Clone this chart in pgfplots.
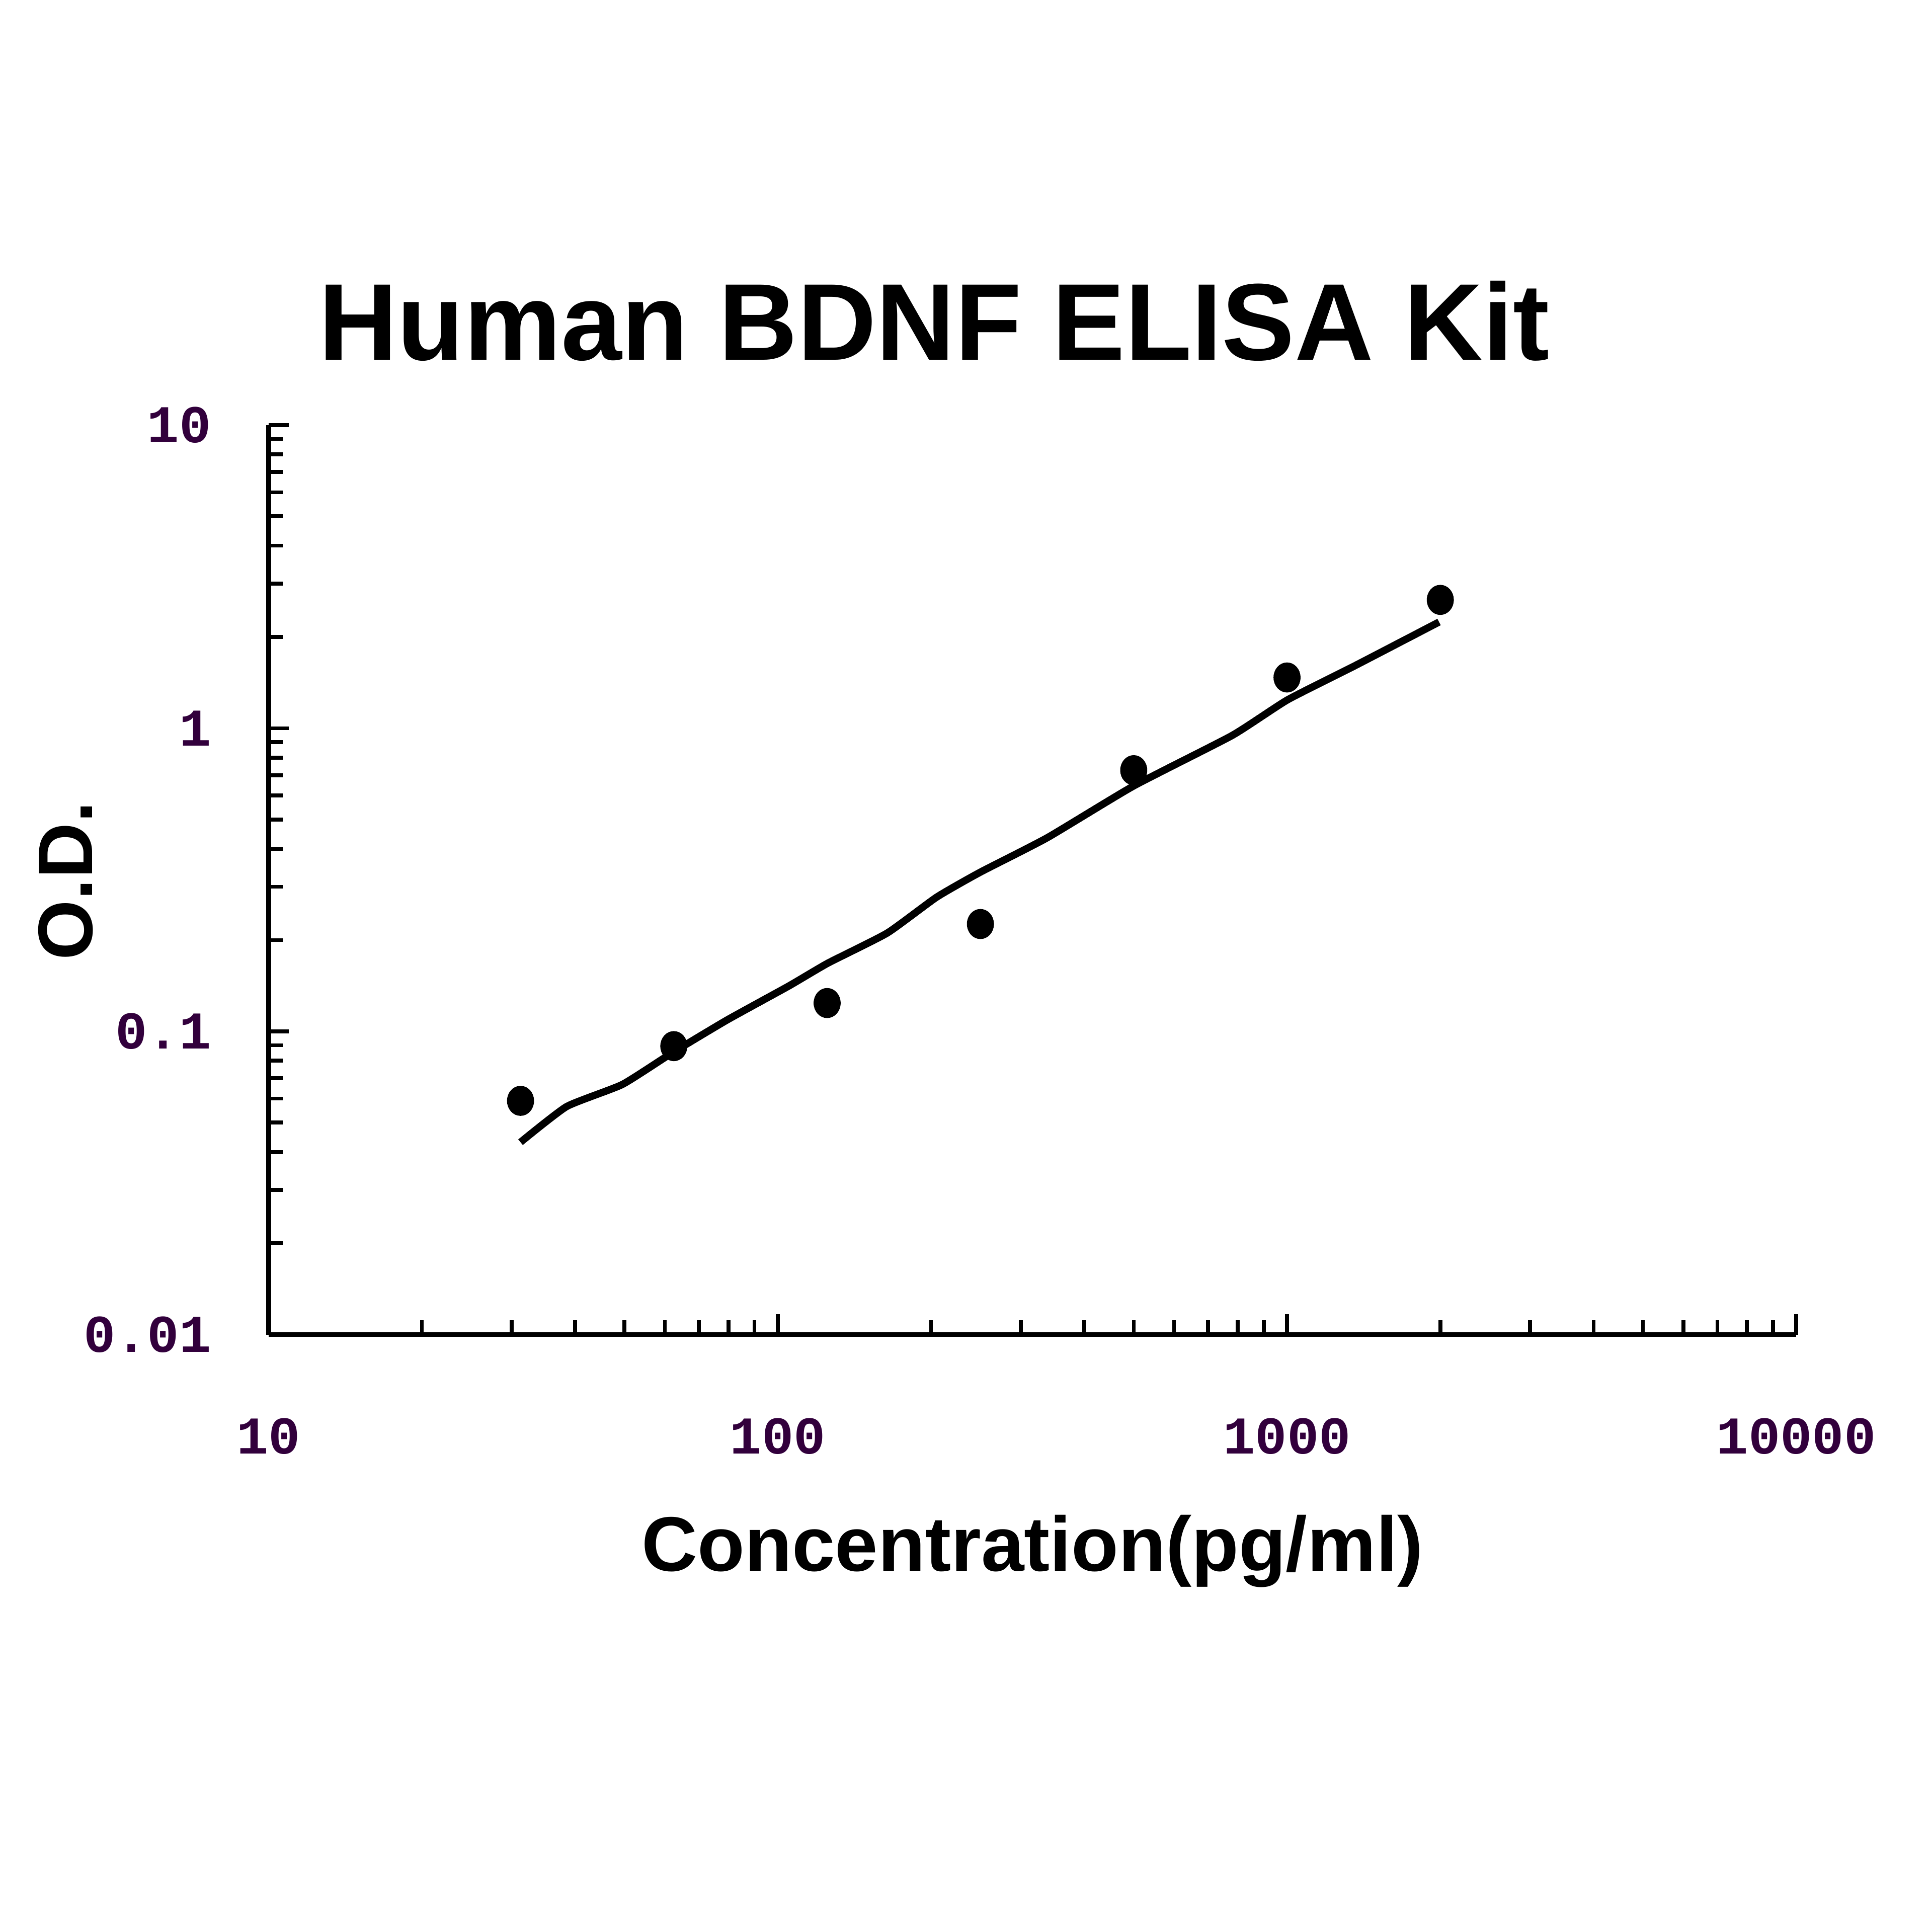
\documentclass[border=0pt]{standalone}
\usepackage{pgfplots}
\pgfplotsset{compat=1.18}
\usepackage{fontspec}
\setmainfont{Liberation Sans}
\newfontfamily\tickfont{Liberation Mono}
\definecolor{ticktext}{RGB}{50,0,60}
\begin{document}
\begin{tikzpicture}
\path (-55.6pt,-123.7pt) rectangle (344.4pt,276.3pt);
\begin{axis}[
  at={(0pt,0pt)}, anchor=south west,
  scale only axis, width=316.3pt, height=188.3pt,
  xmode=log, ymode=log,
  xmin=10, xmax=10000, ymin=0.01, ymax=10,
  axis lines*=left,
  axis line style={line width=1pt, black},
  tick align=inside,
  major tick length=4.2pt, minor tick length=3pt,
  every tick/.style={black, line width=0.8pt},
  xtick={10,100,1000,10000},
  xticklabels={10,100,1000,10000},
  ytick={0.01,0.1,1,10},
  yticklabels={0.01,0.1,1,10},
  xticklabel style={font=\tickfont\bfseries\fontsize{11}{11}\selectfont, text=ticktext, anchor=base, inner sep=0pt, yshift=-24.7pt},
  yticklabel style={font=\tickfont\bfseries\fontsize{11}{11}\selectfont, text=ticktext, anchor=east, inner sep=0pt, xshift=-11.7pt},
  clip=false,
]
\addplot[black, line width=1.5pt, no marks, smooth, tension=0.3] coordinates {
  (31.25,0.0431) (38.5,0.0565) (49.5,0.0668) (61.8,0.0846) (79.5,0.109)
  (105,0.141) (125.5,0.168) (164,0.211) (205,0.277) (249,0.334)
  (338,0.435) (499,0.644) (780,0.946) (1002,1.24) (1362,1.61) (1989,2.24)
};
\addplot[only marks, mark=*, mark size=2.6pt, mark options={fill=black, draw=black, yscale=1.12}] coordinates {
  (31.25,0.059) (62.5,0.0894) (125,0.124) (250,0.226) (500,0.727) (1000,1.47) (2000,2.65)
};
\end{axis}
\node[anchor=base, font=\bfseries\fontsize{22.6}{24}\selectfont] at (137.8pt,201.8pt) {Human BDNF ELISA Kit};
\node[anchor=base, font=\bfseries\fontsize{16}{18}\selectfont] at (158.2pt,-49pt) {Concentration(pg/ml)};
\node[anchor=base, rotate=90, font=\bfseries\fontsize{16}{18}\selectfont] at (-36.5pt,93.9pt) {O.D.};
\end{tikzpicture}
\end{document}
